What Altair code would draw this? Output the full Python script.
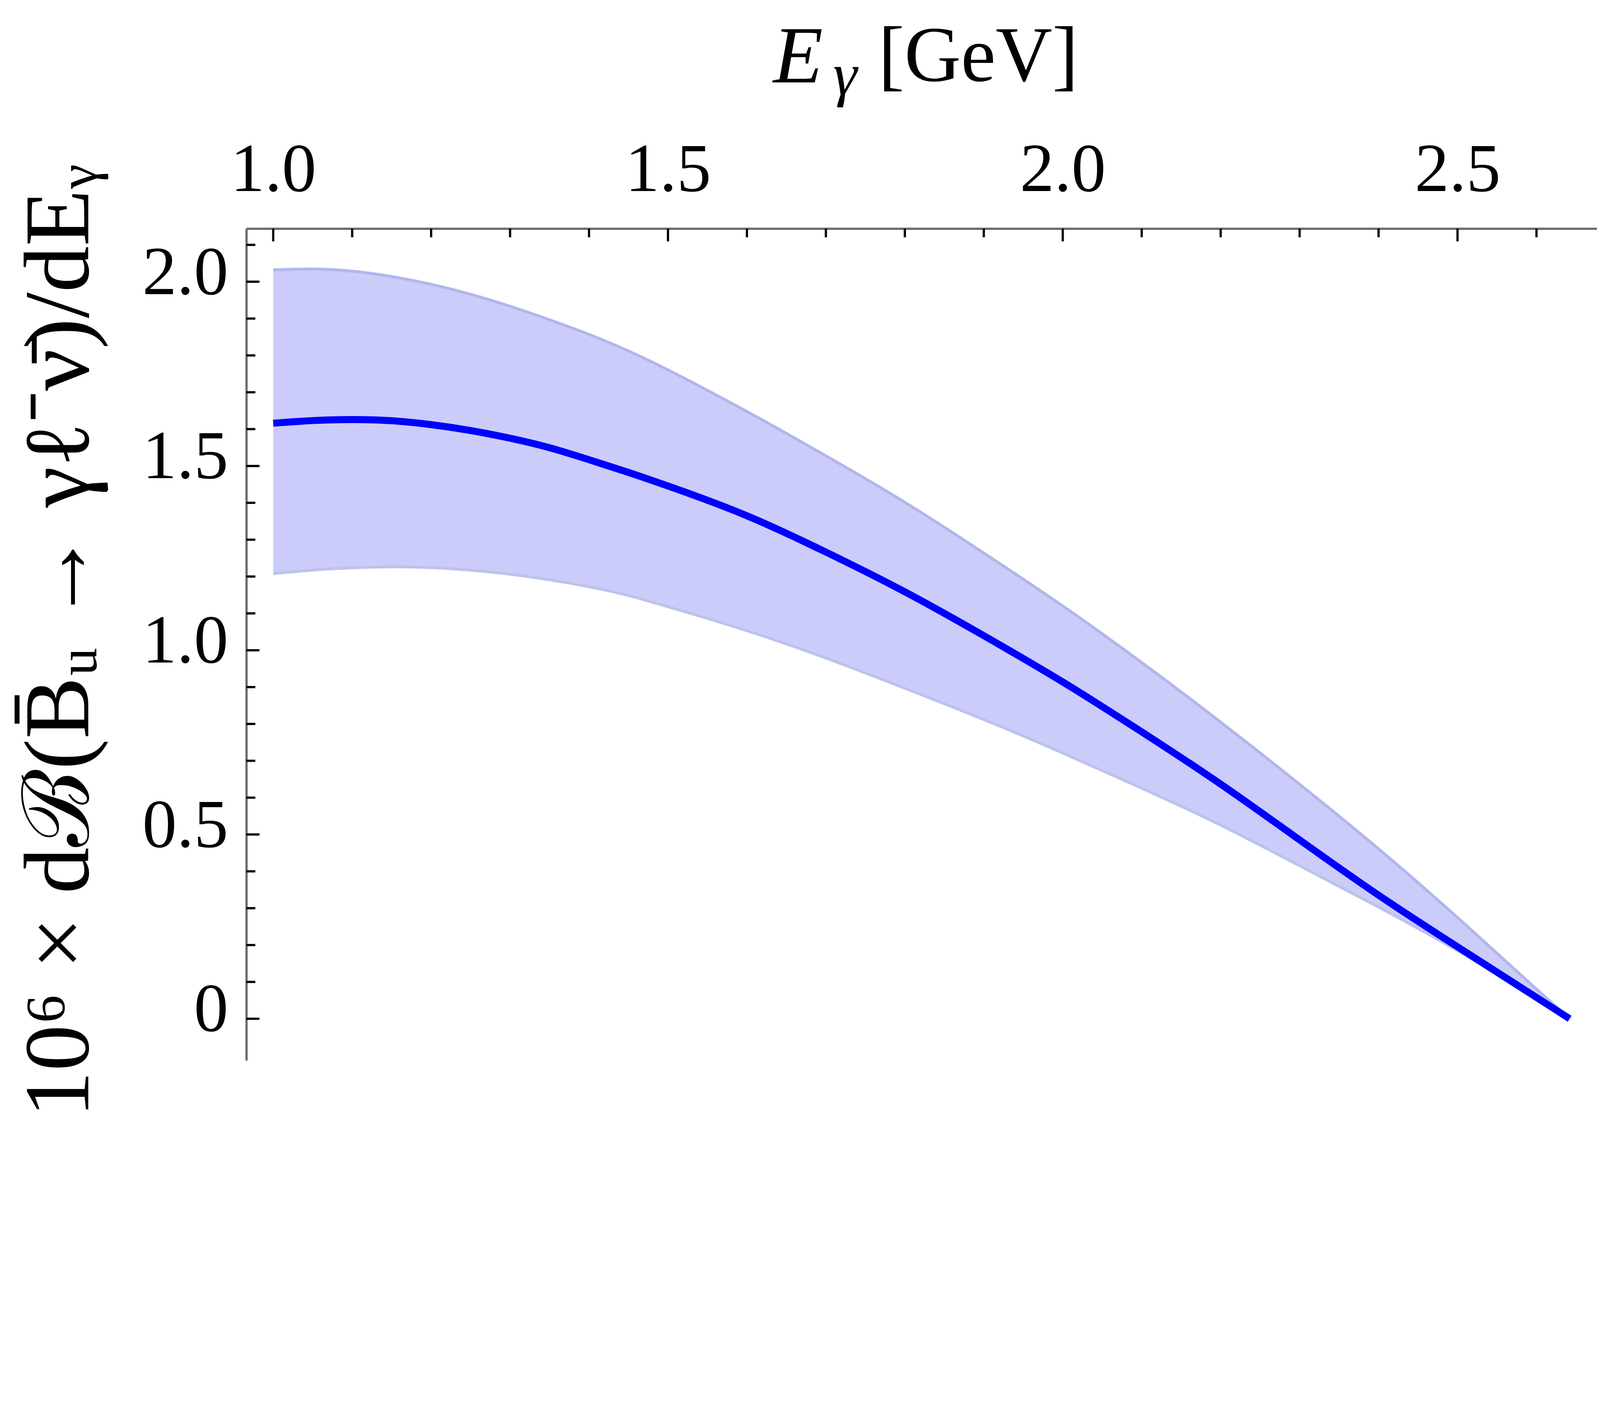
import altair as alt
import pandas as pd

# Photon energy grid (GeV)
E = [1.0, 1.05, 1.1, 1.15, 1.2, 1.25, 1.3, 1.35, 1.4, 1.45, 1.5, 1.6, 1.7,
     1.8, 1.9, 2.0, 2.1, 2.2, 2.3, 2.4, 2.5, 2.6, 2.642]
central = [1.616, 1.624, 1.627, 1.624, 1.613, 1.597, 1.576, 1.551, 1.517, 1.483,
           1.446, 1.369, 1.267, 1.161, 1.040, 0.916, 0.779, 0.639, 0.485, 0.333,
           0.195, 0.058, 0.0]
upper = [2.032, 2.036, 2.030, 2.015, 1.994, 1.967, 1.934, 1.897, 1.858, 1.813,
         1.762, 1.649, 1.528, 1.404, 1.264, 1.122, 0.968, 0.806, 0.637, 0.463,
         0.276, 0.080, 0.0]
lower = [1.208, 1.218, 1.224, 1.227, 1.225, 1.218, 1.207, 1.192, 1.173, 1.150,
         1.118, 1.055, 0.980, 0.897, 0.813, 0.722, 0.626, 0.528, 0.415, 0.304,
         0.187, 0.056, 0.0]

x_major = [1.0, 1.5, 2.0, 2.5]
x_minor = [1.1, 1.2, 1.3, 1.4, 1.6, 1.7, 1.8, 1.9, 2.1, 2.2, 2.3, 2.4, 2.6]
y_major = [0.0, 0.5, 1.0, 1.5, 2.0]
y_minor = [0.1, 0.2, 0.3, 0.4, 0.6, 0.7, 0.8, 0.9, 1.1, 1.2, 1.3, 1.4,
           1.6, 1.7, 1.8, 1.9, 2.1]

x_dom = [0.966, 2.6765]
y_dom = [-0.113, 2.144]

FONT = "Liberation Serif"
y_title = "10\u2076 \u00d7 d\u212c(B\u0304\u1d64 \u2192 \u03b3\u2113\u207b\u03bd\u0304)/dE\u1d67"

df = pd.DataFrame({"E": E, "central": central, "upper": upper, "lower": lower})

xs = alt.Scale(domain=x_dom, nice=False, zero=False)
ys = alt.Scale(domain=y_dom, nice=False, zero=False)

x_axis = alt.Axis(orient="top", values=x_major, format=".1f",
                  labelFont=FONT, labelFontSize=215, labelColor="black",
                  labelBaseline="alphabetic", labelPadding=118, labelLimit=0,
                  ticks=False, tickSize=0, grid=False,
                  domainColor="#6b6b6b", domainWidth=7, title="",
                  labelFlush=False, labelOverlap=False)
y_axis = alt.Axis(orient="left", values=y_major,
                  labelExpr="datum.value == 0 ? '0' : format(datum.value, '.1f')",
                  labelFont=FONT, labelFontSize=215, labelColor="black",
                  labelBaseline="alphabetic", labelOffset=38, labelLimit=0,
                  labelPadding=57, labelAlign="right",
                  ticks=False, tickSize=0, grid=False,
                  domainColor="#6b6b6b", domainWidth=7,
                  labelFlush=False, labelOverlap=False,
                  title=y_title, titleFont=FONT, titleFontSize=290, titleLimit=0,
                  titleFontWeight="normal", titleColor="black",
                  titleAngle=270, titleAlign="center",
                  titleBaseline="alphabetic", titleX=-495, titleY=1290)

base = alt.Chart(df)

band = base.mark_area(color="#CCCCFA", interpolate="basis").encode(
    x=alt.X("E:Q", scale=xs, axis=x_axis),
    y=alt.Y("lower:Q", scale=ys, axis=y_axis),
    y2="upper:Q",
)

def curve(field, color, width):
    return base.mark_line(color=color, strokeWidth=width, interpolate="basis").encode(
        x=alt.X("E:Q", scale=xs, axis=x_axis),
        y=alt.Y(field + ":Q", scale=ys, axis=y_axis))

up_line = curve("upper", "#B0B7EB", 9)
lo_line = curve("lower", "#BCC3EC", 9)
mid_line = curve("central", "#0000FF", 22)

def xticks(vals, length):
    return alt.Chart(pd.DataFrame({"xt": vals})).mark_rule(color="black", strokeWidth=7).encode(
        x=alt.X("xt:Q", scale=xs, axis=x_axis), y=alt.value(0), y2=alt.value(length))

def yticks(vals, length):
    return alt.Chart(pd.DataFrame({"yt": vals})).mark_rule(color="black", strokeWidth=7).encode(
        y=alt.Y("yt:Q", scale=ys, axis=y_axis), x=alt.value(0), x2=alt.value(length))

def label(txt, size, style, x, y):
    return alt.Chart(pd.DataFrame({"t": [txt]})).mark_text(
        font=FONT, fontSize=size, fontStyle=style, align="left",
        baseline="alphabetic", color="black").encode(
        text="t:N", x=alt.value(x), y=alt.value(y))

t_E = label("E", 255, "italic", 1648, -458)
t_g = label("\u03b3", 190, "italic", 1836, -420)
t_u = label("[GeV]", 245, "normal", 1977, -462)

chart = alt.layer(
    band, up_line, lo_line, mid_line,
    xticks(x_major, 40), xticks(x_minor, 27),
    yticks(y_major, 41), yticks(y_minor, 28),
    t_E, t_g, t_u,
).properties(
    width=4225, height=2602,
    autosize=alt.AutoSizeParams(type="none"),
    padding={"left": 761, "top": 307, "right": 0, "bottom": 680},
    background="white",
).configure_view(stroke=None)

chart.save("out.html", embed_options={"renderer": "svg", "actions": False})
